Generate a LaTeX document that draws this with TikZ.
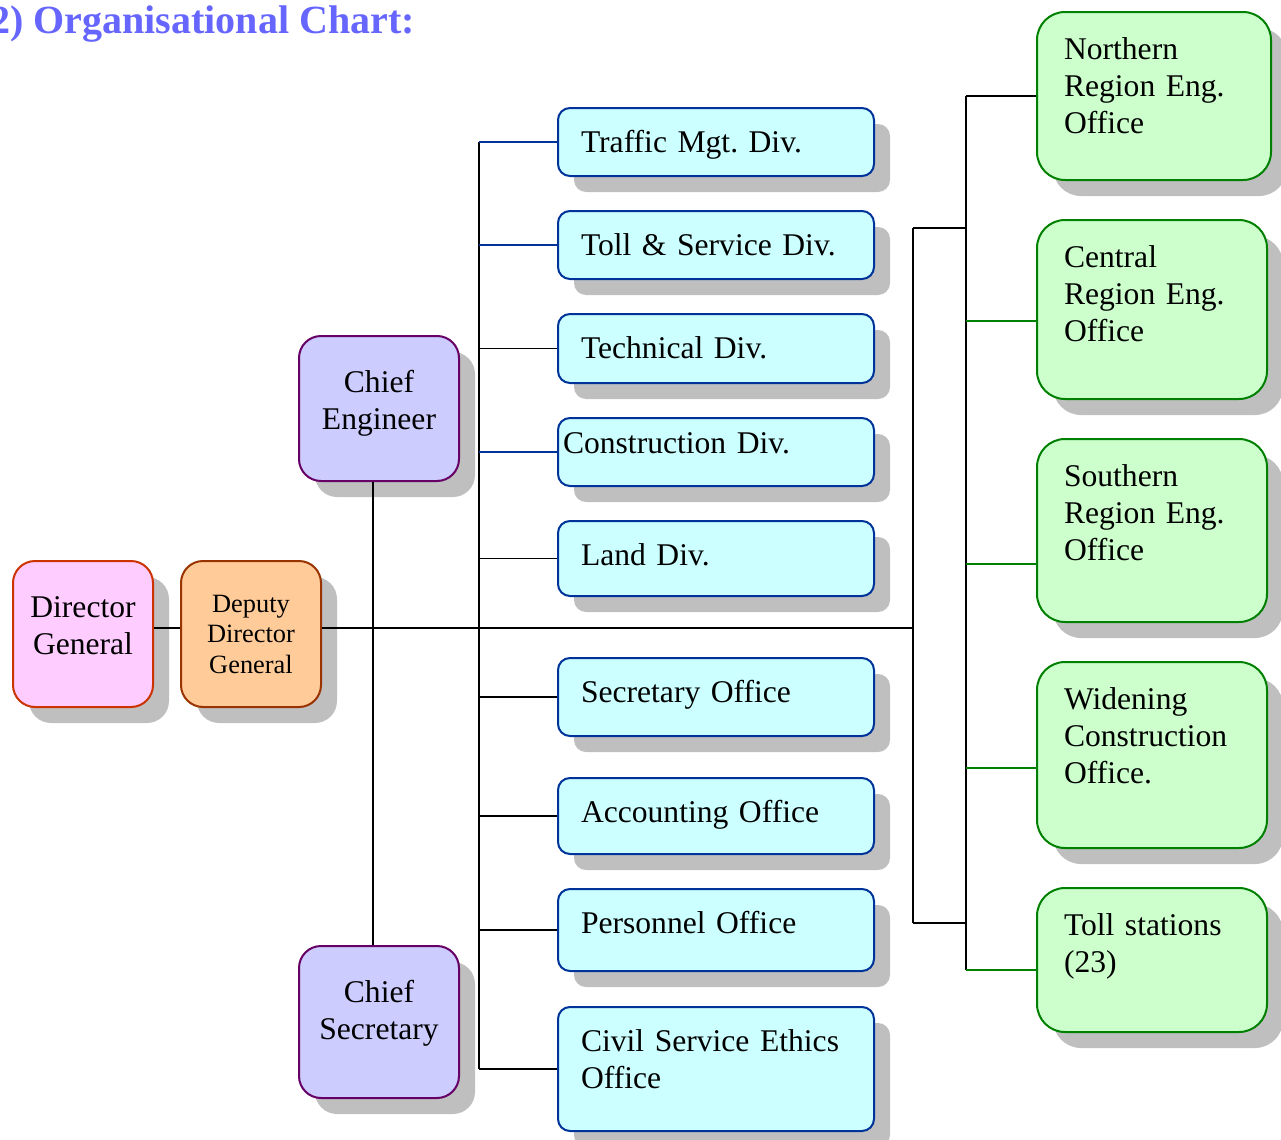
\documentclass[tikz,border=0pt]{standalone}
\usepackage{fontspec}
\setmainfont{Liberation Serif}
\usepackage{tikz}
\usetikzlibrary{shadows}
\frenchspacing
\definecolor{titleblue}{HTML}{6666FF}
\definecolor{dgfill}{HTML}{FFCCFF}
\definecolor{dgdraw}{HTML}{CC3300}
\definecolor{ddgfill}{HTML}{FFCC99}
\definecolor{ddgdraw}{HTML}{993300}
\definecolor{chieffill}{HTML}{CCCCFF}
\definecolor{chiefdraw}{HTML}{660066}
\definecolor{divfill}{HTML}{CCFFFF}
\definecolor{divdraw}{HTML}{003399}
\definecolor{regfill}{HTML}{CCFFCC}
\definecolor{regdraw}{HTML}{008000}
\tikzset{%
	org box/.style={
		draw,
		line width=1pt,
		anchor=north west,
		inner ysep=0pt,
		drop shadow={shadow xshift=8pt, shadow yshift=-8pt, fill=black!25, opacity=1},
		font=\fontsize{15.8}{18.5}\selectfont
	},
	lead box/.style={
		org box,
		rounded corners=11pt,
		inner xsep=4pt,
		text width=62pt,
		align=center,
		text height=28pt
	},
	chief box/.style={
		lead box,
		fill=chieffill,
		draw=chiefdraw,
		text width=72pt
	},
	div box/.style={
		org box,
		rounded corners=6pt,
		fill=divfill,
		draw=divdraw,
		inner xsep=11.5pt,
		text width=135pt,
		align=left,
		text height=22pt
	},
	region box/.style={
		org box,
		rounded corners=14pt,
		fill=regfill,
		draw=regdraw,
		inner xsep=13.5pt,
		text width=88pt,
		align=left,
		text height=23.5pt
	},
	conn/.style={
		line width=0.75pt,
		draw=black
	},
	div line/.style={conn, draw=divdraw},
	region line/.style={conn, draw=regdraw},
	title/.style={
		anchor=base west,
		inner sep=0pt,
		text=titleblue,
		font=\bfseries\fontsize{20}{24}\selectfont
	}
}
\begin{document}
\begin{tikzpicture}[x=0.5pt,y=-0.5pt]
	\useasboundingbox (0,0) rectangle (1281,1140);
	
	\node[title] (title) at (-10,33) {2) Organisational Chart:};
	
	\node[lead box, fill=dgfill, draw=dgdraw, text depth=45pt] (dg) at (12,560) {Director\\General};
	\node[lead box, fill=ddgfill, draw=ddgdraw, text height=25.5pt, text depth=47.5pt, font=\fontsize{13.2}{15.3}\selectfont] (ddg) at (180,560) {Deputy\\Director\\General};
	\node[chief box, text depth=44.5pt] (ce) at (298,335) {Chief\\Engineer};
	\node[chief box, text depth=48pt] (cs) at (298,945) {Chief\\Secretary};
	
	\node[div box, text depth=12pt] (traffic) at (557,107) {Traffic Mgt. Div.};
	\node[div box, text depth=12pt] (toll) at (557,210) {Toll \& Service Div.};
	\node[div box, text depth=12.5pt] (tech) at (557,313) {Technical Div.};
	\node[div box, inner xsep=2.5pt, text width=153pt, text height=17.5pt, text depth=16.5pt] (constr) at (557,417) {Construction Div.};
	\node[div box, text depth=15.5pt] (land) at (557,520) {Land Div.};
	\node[div box, text depth=17pt] (secr) at (557,657) {Secretary Office};
	\node[div box, text depth=16pt] (acct) at (557,777) {Accounting Office};
	\node[div box, text depth=19pt] (pers) at (557,888) {Personnel Office};
	\node[div box, text depth=40pt] (civil) at (557,1006) {Civil Service Ethics\\Office};
	
	\node[region box, text width=90pt, text depth=60.5pt] (northern) at (1036,11) {Northern\\Region Eng.\\Office};
	\node[region box, text depth=66pt] (central) at (1036,219) {Central\\Region Eng.\\Office};
	\node[region box, text depth=68pt] (southern) at (1036,438) {Southern\\Region Eng.\\Office};
	\node[region box, text depth=69.5pt] (widening) at (1036,661) {Widening\\Construction\\Office.};
	\node[region box, text depth=48.5pt] (tollst) at (1036,887) {Toll stations\\(23)};
	
	\coordinate (hub) at (913,628);
	\coordinate (lspine) at (479,137);
	\coordinate (rspine) at (966,95);
	\coordinate (rtop) at (913,228);
	\coordinate (rbot) at (913,923);
	\coordinate (central in) at ([yshift=-5.75pt]central.west);
	\coordinate (southern in) at ([yshift=-16.75pt]southern.west);
	\coordinate (widening in) at ([yshift=-6.5pt]widening.west);
	\coordinate (tollst in) at ([yshift=-5pt]tollst.west);
	
	\draw[conn] (dg.east |- hub) -- (ddg.west |- hub);
	\draw[conn] (ddg.east |- hub) -- (hub);
	\draw[conn] ([xshift=-3pt]ce.south) -- ([xshift=-3pt]cs.north);
	
	\draw[conn] (lspine |- traffic.west) -- (lspine |- civil.west);
	\draw[div line] (lspine |- traffic.west) -- (traffic.west);
	\draw[div line] (lspine |- toll.west) -- (toll.west);
	\draw[conn] (lspine |- tech.west) -- (tech.west);
	\draw[div line] (lspine |- constr.west) -- (constr.west);
	\draw[conn] (lspine |- land.west) -- (land.west);
	\draw[conn] (lspine |- secr.west) -- (secr.west);
	\draw[conn] (lspine |- acct.west) -- (acct.west);
	\draw[conn] (lspine |- pers.west) -- (pers.west);
	\draw[conn] (lspine |- civil.west) -- (civil.west);
	
	\draw[conn] (rtop) -- (rbot);
	\draw[conn] (rtop) -- (rspine |- rtop);
	\draw[conn] (rbot) -- (rspine |- rbot);
	\draw[conn] (rspine |- northern.west) -- (rspine |- tollst in);
	\draw[conn] (rspine |- northern.west) -- (northern.west);
	\draw[region line] (rspine |- central in) -- (central in);
	\draw[region line] (rspine |- southern in) -- (southern in);
	\draw[region line] (rspine |- widening in) -- (widening in);
	\draw[region line] (rspine |- tollst in) -- (tollst in);
\end{tikzpicture}
\end{document}
